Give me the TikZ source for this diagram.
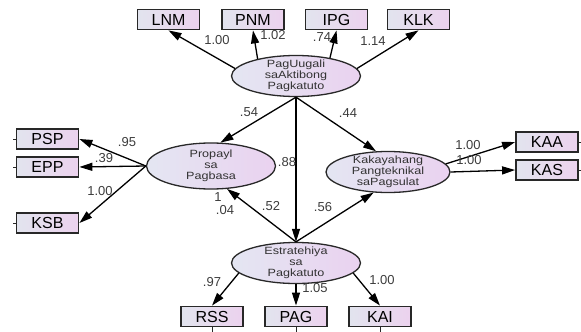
\documentclass[tikz,border=0pt]{standalone}
\usepackage{fontspec}
\setmainfont{Liberation Sans}
\newfontfamily\ellfont[FakeStretch=1.2]{Liberation Sans}
\usetikzlibrary{arrows.meta,shapes.geometric}
\definecolor{boxleft}{RGB}{226,228,238}
\definecolor{boxright}{RGB}{236,210,238}
\definecolor{ellleft}{RGB}{228,230,242}
\definecolor{ellright}{RGB}{234,210,240}
\definecolor{edgegray}{RGB}{40,40,40}
\definecolor{coefgray}{RGB}{60,60,60}

\begin{document}
\begin{tikzpicture}[x=1pt,y=-1pt,
    obs/.style={draw=edgegray,line width=1.8pt,left color=boxleft,right color=boxright,
      minimum width=62pt,minimum height=20pt,inner sep=0pt,font=\fontsize{16}{16}\selectfont},
    lat/.style={ellipse,draw=edgegray,line width=1.3pt,left color=ellleft,right color=ellright,
      minimum width=129pt,minimum height=41pt,inner xsep=0pt,inner ysep=-3pt,align=center,
      text=black!80,font=\ellfont\fontsize{10.5}{11}\selectfont},
    coef/.style={inner sep=0pt,text=coefgray,font=\fontsize{13}{13}\selectfont},
    arr/.style={-{Triangle[length=13pt,width=8pt]},line width=1.3pt}]
    \useasboundingbox (0,0) rectangle (581,332);
    % latent variables
    \node[lat] (ugali) at (296,76) {PagUugali\\saAktibong\\Pagkatuto};
    \node[lat,minimum height=46pt] (propayl) at (211,166) {Propayl\\sa\\Pagbasa};
    \node[lat,minimum width=124pt] (kakayahan) at (388,172) {Kakayahang\\Pangteknikal\\saPagsulat};
    \node[lat] (estrat) at (296,263) {Estratehiya\\sa\\Pagkatuto};
    % observed variables
    \foreach \n/\t/\x/\y in {lnm/LNM/168.5/19.5,pnm/PNM/253/19.5,ipg/IPG/336.5/19.5,klk/KLK/418.5/19.5,
        psp/PSP/47.5/139,epp/EPP/47.5/167,ksb/KSB/47.5/223,kaa/KAA/547/142,kas/KAS/547/170,
        rss/RSS/212/316.5,pagb/PAG/296/316.5,kai/KAI/380/316.5} {
      \node[obs] (\n) at (\x,\y) {\t};
    }
    % error stubs
    \foreach \n in {psp,epp,ksb} \draw[line width=1pt,edgegray] (\n.west) -- ++(-3,0);
    \foreach \n in {kaa,kas} \draw[line width=1pt,edgegray] (\n.east) -- ++(4,0);
    \foreach \n in {rss,pagb,kai} \draw[line width=1pt,edgegray] (\n.south) -- ++(0,5);
    % loadings
    \draw[arr] (ugali.173) -- (lnm.south);
    \draw[arr] (ugali.156) -- (pnm.south);
    \draw[arr] (ugali.28) -- (ipg.south);
    \draw[arr] (ugali.7) -- (klk.south);
    \draw[arr] (propayl.west) -- (psp.east);
    \draw[arr] (propayl.west) -- (epp.east);
    \draw[arr] (propayl.west) -- (ksb.east);
    \draw[arr] (kakayahan.8) -- (kaa.west);
    \draw[arr] (kakayahan.east) -- (kas.west);
    \draw[arr] (estrat.190) -- (rss.north);
    \draw[arr] (estrat.south) -- (pagb.north);
    \draw[arr] (estrat.-10) -- (kai.north);
    % structural paths
    \draw[arr] (ugali.south) -- (propayl.68);
    \draw[arr] (ugali.south) -- (kakayahan.120);
    \draw[arr] (ugali.south) -- (estrat.north);
    \draw[arr] (estrat.north) -- (propayl.-55);
    \draw[arr] (estrat.north) -- (kakayahan.-125);
    % coefficients
    \foreach \n/\t/\x/\y in {c1/1.00/217/40,c2/1.02/273/35,c3/.74/322/37,c4/1.14/373/41,
        c5/.54/249/112,c6/.44/348/113,c7/.88/287/162,c8/.52/271/206,c9/.56/323/207,
        c10/1/218/197,c11/.04/225/210,c12/.95/127/142,c13/.39/104/158,c14/1.00/100/191,
        c15/1.00/468/145,c16/1.00/469/160,c17/.97/212/282,c18/1.05/315/288,c19/1.00/382/280} {
      \node[coef] (\n) at (\x,\y) {\t};
    }
\end{tikzpicture}
\end{document}
